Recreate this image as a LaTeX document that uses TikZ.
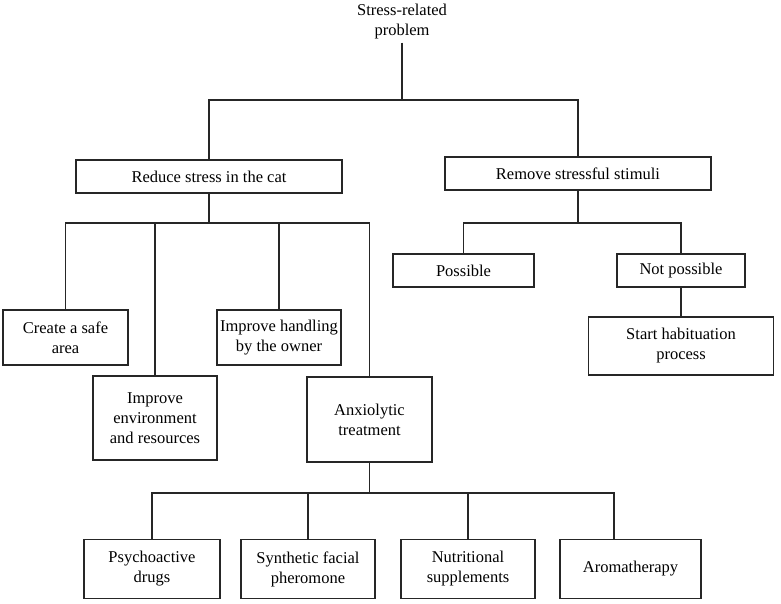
\documentclass[tikz,border=0pt]{standalone}
\usepackage{fontspec}
\setmainfont{Liberation Serif}
\usepackage{tikz}
\usetikzlibrary{positioning,calc}
\newcommand{\stressfont}{\fontsize{16.5}{20}\selectfont}
\tikzset{
  box/.style={rectangle,draw=black!85,line width=1.2pt,fill=white,text=black,
    font=\stressfont,align=center,inner sep=2pt},
  link/.style={draw=black!85,line width=1.2pt},
}

\begin{document}
\begin{tikzpicture}[x=1pt,y=-1pt]
  \useasboundingbox (0,0) rectangle (781,603);
  \node[font=\stressfont,align=center,inner sep=3pt] (title) at (402,22) {Stress-related\\problem};
  \node[box,minimum width=266pt,minimum height=33pt] (reduce) at (209,176.5) {Reduce stress in the cat};
  \node[box,minimum width=266pt,minimum height=33pt] (remove) at (578,173.5) {Remove stressful stimuli};
  \node[box,minimum width=125pt,minimum height=55pt] (safe) at (65.5,337.5) {Create a safe\\area};
  \node[box,minimum width=124pt,minimum height=84pt] (env) at (155,418) {Improve\\environment\\and resources};
  \node[box,minimum width=124pt,minimum height=55pt] (handling) at (279,337.5) {Improve handling\\by the owner};
  \node[box,minimum width=125pt,minimum height=85pt] (anx) at (369.5,419.5) {Anxiolytic\\treatment};
  \node[box,minimum width=141pt,minimum height=33pt] (possible) at (463.5,270.5) {Possible};
  \node[box,minimum width=128pt,minimum height=33pt] (notposs) at (681,270.5) {Not possible};
  \node[box,minimum width=185pt,minimum height=58pt] (habit) at (681,346) {Start habituation\\process};
  \node[box,minimum width=136pt,minimum height=59pt] (psycho) at (152,569) {Psychoactive\\drugs};
  \node[box,minimum width=134pt,minimum height=59pt] (synth) at (308,569) {Synthetic facial\\pheromone};
  \node[box,minimum width=134pt,minimum height=59pt] (nutri) at (468,569) {Nutritional\\supplements};
  \node[box,minimum width=141pt,minimum height=59pt] (aroma) at (630.5,569) {Aromatherapy};

  \coordinate (j0) at (402,100);
  \coordinate (j1) at (209,223);
  \coordinate (j2) at (578,223);
  \coordinate (j3) at (369.5,493);
  \coordinate (drop) at (614,493);

  \draw[link] (title) -- (j0);
  \draw[link] (reduce) |- (j0) -| (remove);
  \draw[link] (reduce) -- (j1);
  \draw[link] (safe) |- (j1) -| (anx);
  \draw[link] (env) |- (j1);
  \draw[link] (handling) |- (j1);
  \draw[link] (remove) -- (j2);
  \draw[link] (possible) |- (j2) -| (notposs);
  \draw[link] (notposs) -- (habit);
  \draw[link] (anx) -- (j3);
  \draw[link] (psycho) |- (j3) -- (drop) -- (drop |- aroma.north);
  \draw[link] (synth) |- (j3);
  \draw[link] (nutri) |- (j3);
\end{tikzpicture}
\end{document}
